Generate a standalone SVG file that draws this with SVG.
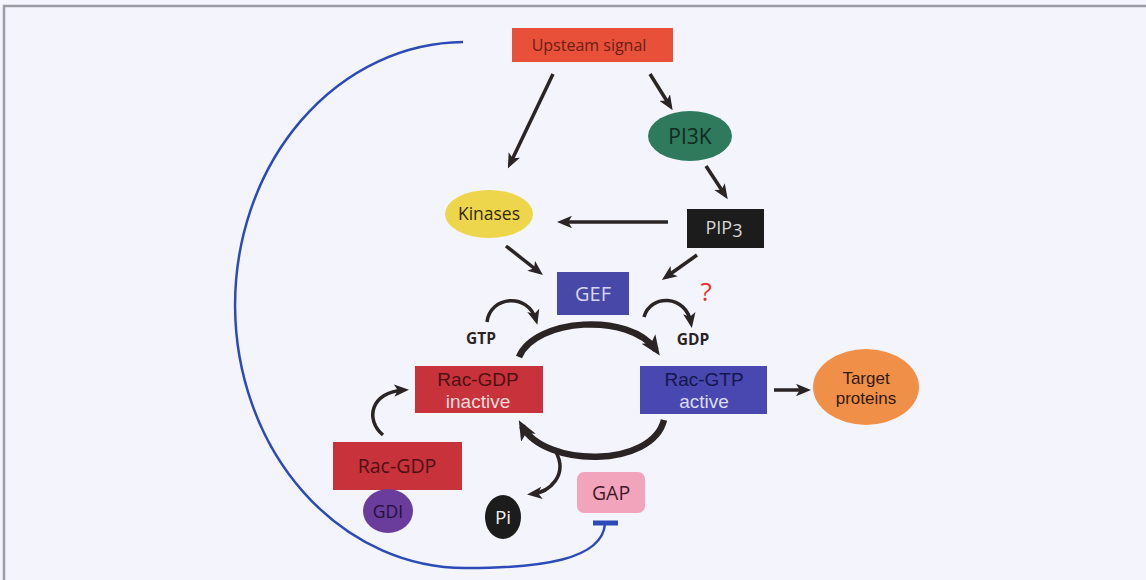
<svg xmlns="http://www.w3.org/2000/svg" width="1146" height="580" viewBox="0 0 1146 580">
<defs>
<style>
text{font-family:"Open Sans","Noto Sans","Liberation Sans",sans-serif;text-anchor:middle}
text.two{font-family:"Liberation Sans","Open Sans",sans-serif}
.ar{fill:none;stroke:#2a2424;stroke-width:3.5}
.big{fill:none;stroke:#2a2424;stroke-width:6.5}
</style>
<marker id="ah" viewBox="0 0 12 10" refX="8" refY="5" markerWidth="15" markerHeight="13" markerUnits="userSpaceOnUse" orient="auto">
<path d="M0,0 L12,5 L0,10 L3,5 z" fill="#2a2424"/>
</marker>
<marker id="ahb" viewBox="0 0 12 10" refX="8" refY="5" markerWidth="20" markerHeight="18" markerUnits="userSpaceOnUse" orient="auto">
<path d="M0,0 L12,5 L0,10 L3,5 z" fill="#2a2424"/>
</marker>
</defs>
<rect width="1146" height="580" fill="#f4f4fc"/>
<path d="M4,580 V6 H1146" fill="none" stroke="#9c9ca6" stroke-width="2.5"/>

<g id="connectors">
<path class="ar" d="M553,74 L510,164" marker-end="url(#ah)"/>
<path class="ar" d="M650,74 L670,106" marker-end="url(#ah)"/>
<path class="ar" d="M706,166 L725,195" marker-end="url(#ah)"/>
<path class="ar" d="M668,222 L562,222" marker-end="url(#ah)"/>
<path class="ar" d="M506,246 L539,272" marker-end="url(#ah)"/>
<path class="ar" d="M697,255 L666,277" marker-end="url(#ah)"/>
<path class="ar" d="M487,322 C490,296 528,292 536,320" marker-end="url(#ah)"/>
<path class="ar" d="M644,317 C650,294 686,294 691,323" marker-end="url(#ah)"/>
<path class="big" d="M519,357 C535,318 630,312 656,350" marker-end="url(#ahb)"/>
<path class="big" d="M664,420 C652,468 545,468 522,426" marker-end="url(#ahb)"/>
<path class="ar" d="M556,452 C568,475 550,492 532,494" marker-end="url(#ah)"/>
<path class="ar" d="M383,435 C365,420 370,392 404,390" marker-end="url(#ah)"/>
<path class="ar" d="M774,390 L806,390" marker-end="url(#ah)"/>
<path d="M463,42 A230,263 0 0 0 467,568 C540,568 602,560 605,524" fill="none" stroke="#2c4bb8" stroke-width="2.5"/>
<path d="M593,523 H618" stroke="#2c4bb8" stroke-width="5"/>
</g>

<g id="upstream">
<rect x="512" y="28" width="161" height="34" fill="#e8503a"/>
<text x="589" y="51" font-size="16" fill="#6a1e14">Upsteam signal</text>
</g>
<g id="pi3k">
<ellipse cx="690" cy="136" rx="42" ry="25" fill="#2f7a5c"/>
<text x="690" y="144" font-size="21" fill="#102a22">PI3K</text>
</g>
<g id="kinases">
<ellipse cx="489" cy="214" rx="44" ry="24" fill="#eed64c"/>
<text x="489" y="220" font-size="17.5" fill="#33290c">Kinases</text>
</g>
<g id="pip3">
<rect x="687" y="209" width="77" height="39" fill="#1c1c1c"/>
<text x="724" y="234" font-size="18" fill="#d8d8d8">PIP<tspan dy="3">3</tspan></text>
</g>
<g id="gef">
<rect x="557" y="272" width="72" height="43" fill="#4848a8"/>
<text x="593" y="301" font-size="20" fill="#d6d6f2">GEF</text>
</g>
<g id="question">
<text x="706" y="301" font-size="26" fill="#e83030">?</text>
</g>
<g id="gtp">
<text x="481" y="344" font-size="15.5" font-weight="bold" fill="#2a2424">GTP</text>
</g>
<g id="gdp">
<text x="693" y="345" font-size="15.5" font-weight="bold" fill="#2a2424">GDP</text>
</g>
<g id="racgdp">
<rect x="415" y="366" width="128" height="47" fill="#c8323a"/>
<text class="two" x="478" y="386" font-size="19" fill="#4e1014">Rac-GDP<tspan x="478" dy="22" fill="#f2dada">inactive</tspan></text>
</g>
<g id="racgtp">
<rect x="640" y="366" width="127" height="48" fill="#4848b0"/>
<text class="two" x="704" y="386" font-size="19" fill="#16164e">Rac-GTP<tspan x="704" dy="22" fill="#dcdcf6">active</tspan></text>
</g>
<g id="target">
<ellipse cx="866" cy="387" rx="53" ry="38" fill="#f09048"/>
<text class="two" x="866" y="384" font-size="17" fill="#33190a">Target<tspan x="866" dy="20">proteins</tspan></text>
</g>
<g id="racgdp-gdi">
<rect x="333" y="442" width="129" height="48" fill="#c8323a"/>
<text x="397" y="473" font-size="19.5" fill="#4e1014">Rac-GDP</text>
</g>
<g id="gdi">
<ellipse cx="388" cy="511" rx="25" ry="22" fill="#6a3c9c"/>
<text x="388" y="518" font-size="17.5" fill="#24103a">GDI</text>
</g>
<g id="pi">
<ellipse cx="503" cy="517" rx="18" ry="22" fill="#1c1c1c"/>
<text x="503" y="524" font-size="19" fill="#f0f0f0">Pi</text>
</g>
<g id="gap">
<rect x="577" y="472" width="68" height="41" rx="7" fill="#f2a4bc"/>
<text x="611" y="500" font-size="19.5" fill="#42182a">GAP</text>
</g>
</svg>
